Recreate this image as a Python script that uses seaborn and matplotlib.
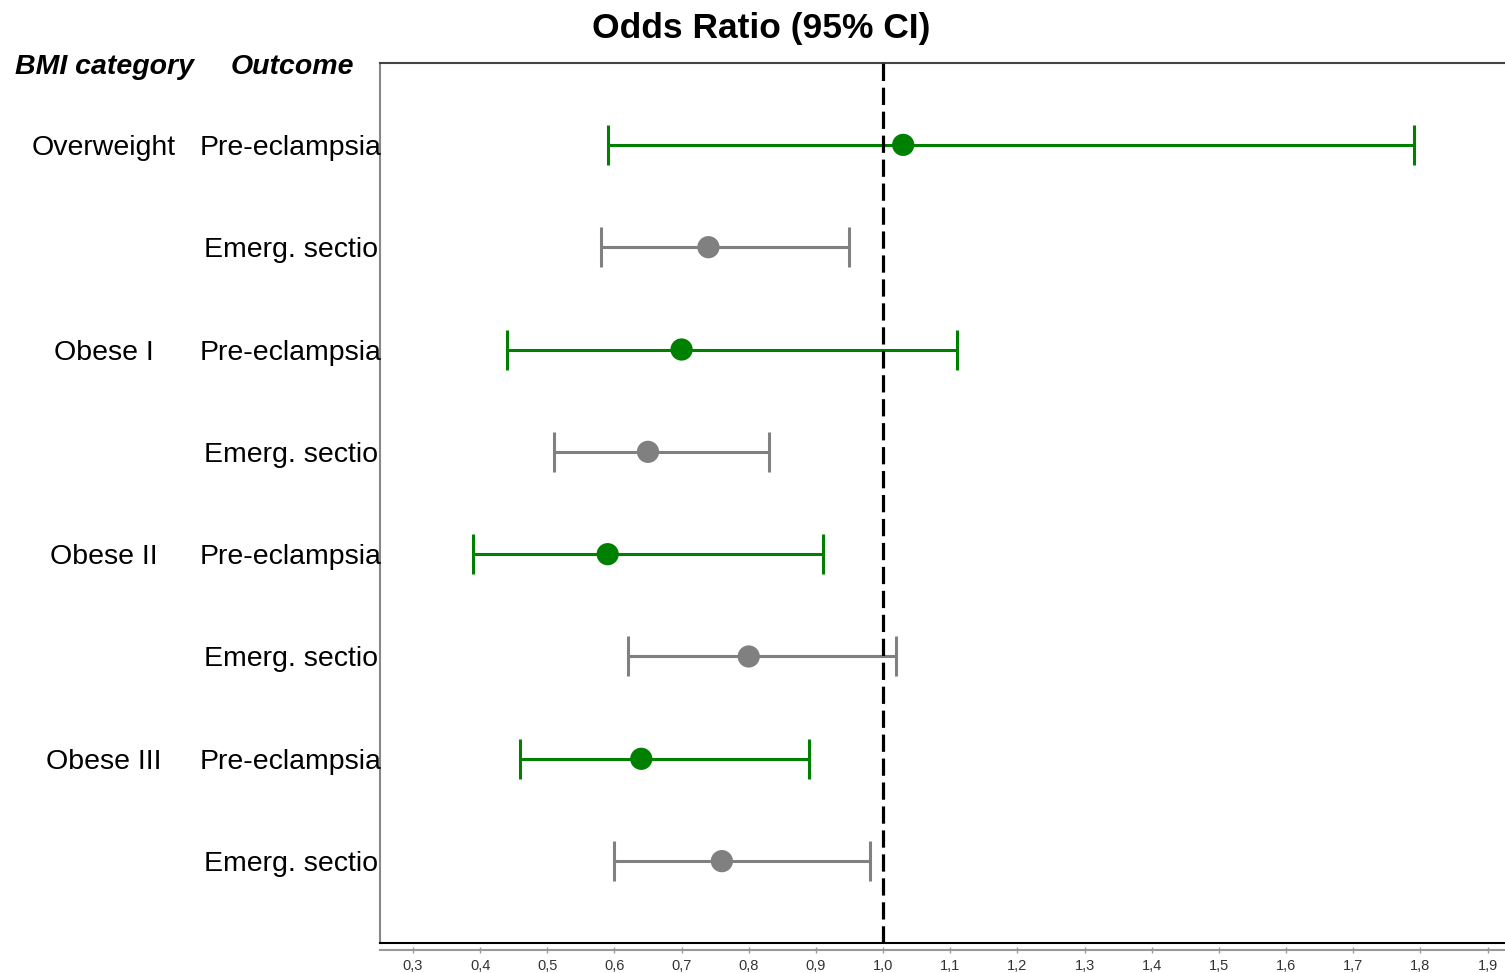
import numpy as np
import pandas as pd
import matplotlib
matplotlib.use("Agg")
import matplotlib.pyplot as plt
import matplotlib.transforms as mtransforms
import seaborn as sns

# ---- data ----
bmi_category = ["Overweight", "", "Obese I", "", "Obese II", "", "Obese III", ""]
outcome = ["Pre-eclampsia", "Emerg. sectio", "Pre-eclampsia", "Emerg. sectio",
           "Pre-eclampsia", "Emerg. sectio", "Pre-eclampsia", "Emerg. sectio"]
odds_ratio = [1.03, 0.74, 0.70, 0.65, 0.59, 0.80, 0.64, 0.76]
ci_lower = [0.59, 0.58, 0.44, 0.51, 0.39, 0.62, 0.46, 0.60]
ci_upper = [1.79, 0.95, 1.11, 0.83, 0.91, 1.02, 0.89, 0.98]
tick_values = [0.3, 0.4, 0.5, 0.6, 0.7, 0.8, 0.9, 1.0, 1.1, 1.2, 1.3, 1.4, 1.5, 1.6, 1.7, 1.8, 1.9]
tick_labels = ["0,3", "0,4", "0,5", "0,6", "0,7", "0,8", "0,9", "1,0", "1,1", "1,2",
               "1,3", "1,4", "1,5", "1,6", "1,7", "1,8", "1,9"]
reference_line = 1.0

df = pd.DataFrame({"row": np.arange(len(outcome)), "bmi": bmi_category, "outcome": outcome,
                   "or": odds_ratio, "lo": ci_lower, "hi": ci_upper})
palette = {"Pre-eclampsia": "#008000", "Emerg. sectio": "#808080"}

sns.set_style("white")
plt.rcParams["font.family"] = ["Liberation Sans", "DejaVu Sans"]
plt.rcParams["text.color"] = "black"

W, H = 1505, 973
fig = plt.figure(figsize=(W / 100, H / 100), dpi=100)
ax = fig.add_axes([380 / W, 1 - 943 / H, 1 - 380 / W, (943 - 63) / H])

# error bars
for oc, sub in df.groupby("outcome"):
    ax.errorbar(sub["or"], sub["row"],
                xerr=[sub["or"] - sub["lo"], sub["hi"] - sub["or"]],
                fmt="none", ecolor=palette[oc], elinewidth=2.2,
                capsize=14.5, capthick=2.2, zorder=2)

sns.scatterplot(data=df, x="or", y="row", hue="outcome", palette=palette,
                s=16 ** 2, edgecolor="none", legend=False, ax=ax, zorder=3)

ax.axvline(reference_line, color="black", lw=2.3, linestyle=(0, (5.4, 2.1)), zorder=4)

ax.set_xlim(0.251, 1.926)
ax.set_ylim(7.8, -0.8)
ax.set_xticks([])
ax.set_yticks([])
ax.set_xlabel("")
ax.set_ylabel("")

ax.spines["right"].set_visible(False)
ax.spines["left"].set_color("#888888")
ax.spines["left"].set_linewidth(1.5)
ax.spines["top"].set_color("#444444")
ax.spines["top"].set_linewidth(1.5)
ax.spines["bottom"].set_color("black")
ax.spines["bottom"].set_linewidth(1.5)

# separate scale axis below the box
sec = ax.secondary_xaxis(-7 / 880)
sec.set_xticks(tick_values, tick_labels)
sec.spines["bottom"].set_color("#999999")
sec.spines["bottom"].set_linewidth(1.5)
sec.tick_params(axis="x", direction="inout", length=5, width=1, color="#999999",
                labelsize=10.5, labelcolor="#333333", pad=4)

# row labels
trans = mtransforms.blended_transform_factory(fig.transFigure, ax.transData)
for i, r in df.iterrows():
    if r["bmi"]:
        fig.text(104 / W, r["row"], r["bmi"], transform=trans, ha="center",
                 va="center_baseline", fontsize=20.5, color="black")
    x0 = 200 if r["outcome"] == "Pre-eclampsia" else 204
    fig.text(x0 / W, r["row"], r["outcome"], transform=trans, ha="left",
             va="center_baseline", fontsize=20.5, color="black")

# headers and title
fig.text(15 / W, 1 - 64 / H, "BMI category", ha="left", va="center_baseline", fontsize=20.5,
         fontweight="bold", fontstyle="italic", color="black")
fig.text(231 / W, 1 - 64 / H, "Outcome", ha="left", va="center_baseline", fontsize=20.5,
         fontweight="bold", fontstyle="italic", color="black")
fig.text(761 / W, 1 - 25 / H, "Odds Ratio (95% CI)", ha="center", va="center_baseline",
         fontsize=25.5, fontweight="bold", color="black")

fig.savefig("out.png", dpi=100)
